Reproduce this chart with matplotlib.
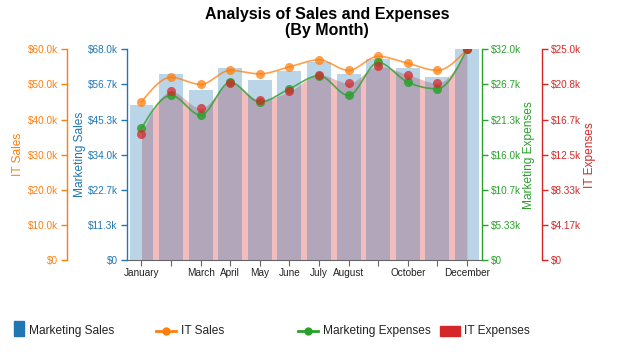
import matplotlib.pyplot as plt
import numpy as np
from matplotlib.patches import Rectangle
from matplotlib.lines import Line2D
from matplotlib.ticker import FuncFormatter

plt.rcParams['font.family'] = ['Liberation Sans', 'DejaVu Sans']

# data
months = ['January', 'February', 'March', 'April', 'May', 'June', 'July',
          'August', 'September', 'October', 'November', 'December']
shown_labels = ['January', '', 'March', 'April', 'May', 'June', 'July',
                'August', '', 'October', '', 'December']
marketing_sales = [50000, 60000, 55000, 62000, 58000, 61000, 64000, 60000, 65000, 62000, 59000, 68000]
it_sales = [45000, 52000, 50000, 54000, 53000, 55000, 57000, 54000, 58000, 56000, 54000, 60000]
marketing_expenses = [20000, 25000, 22000, 27000, 24000, 26000, 28000, 25000, 30000, 27000, 26000, 32000]
it_expenses = [15000, 20000, 18000, 21000, 19000, 20000, 22000, 21000, 23000, 22000, 21000, 25000]

BLUE, ORANGE, GREEN, RED = '#1f77b4', '#ff7f0e', '#2ca02c', '#d62728'
W, H = 641, 352


def monotone_curve(y, n=30):
    # monotone cubic (like d3.curveMonotoneX) over evenly spaced categories
    y = np.asarray(y, dtype=float)
    s = np.diff(y)
    t = np.zeros_like(y)
    for i in range(1, len(y) - 1):
        s0, s1 = s[i - 1], s[i]
        p = (s0 + s1) / 2
        sg = (-1 if s0 < 0 else 1) + (-1 if s1 < 0 else 1)
        t[i] = sg * min(abs(s0), abs(s1), 0.5 * abs(p))
    t[0] = (3 * s[0] - t[1]) / 2
    t[-1] = (3 * s[-1] - t[-2]) / 2
    xs, ys = [], []
    for i in range(len(y) - 1):
        u = np.linspace(0, 1, n, endpoint=(i == len(y) - 2))
        h00 = 2 * u**3 - 3 * u**2 + 1
        h10 = u**3 - 2 * u**2 + u
        h01 = -2 * u**3 + 3 * u**2
        h11 = u**3 - u**2
        xs.append(i + u)
        ys.append(h00 * y[i] + h10 * t[i] + h01 * y[i + 1] + h11 * t[i + 1])
    return np.concatenate(xs), np.concatenate(ys)


def money(v, pos):
    if v == 0:
        return '$0'
    return '${:#.3g}k'.format(v / 1000)


def style_axis(a, side, pos, color, label, vmax, label_x):
    a.set_ylim(0, vmax)
    a.set_yticks(np.linspace(0, vmax, 7))
    a.yaxis.set_major_formatter(FuncFormatter(money))
    for s in a.spines.values():
        s.set_visible(False)
    sp = a.spines[side]
    sp.set_visible(True)
    sp.set_color(color)
    sp.set_linewidth(1)
    sp.set_position(('axes', pos))
    a.yaxis.set_ticks_position(side)
    a.yaxis.set_label_position(side)
    a.tick_params(axis='y', colors=color, length=4.3, width=1, labelsize=7.2, pad=2.2)
    a.set_ylabel(label, color=color, fontsize=8.6, va='center')
    a.yaxis.set_label_coords(label_x, 0.5)


fig = plt.figure(figsize=(W / 100, H / 100), dpi=100)
left, right, top, bottom = 126.7, 481.7, 49.3, 260.0
ax = fig.add_axes([left / W, 1 - bottom / H, (right - left) / W, (bottom - top) / H])
pw = right - left

x = np.arange(len(months))

# red area sits below the bars
ax_area = ax.twinx()
ax_area.set_zorder(0)
ax.set_zorder(1)
ax.patch.set_visible(False)
ax_area.set_ylim(0, max(it_expenses))
ax_area.set_yticks([])
for s in ax_area.spines.values():
    s.set_visible(False)
cx, cy = monotone_curve(it_expenses)
ax_area.fill_between(cx, cy, color=RED, alpha=0.3, lw=0)

# marketing sales bars
ax.bar(x, marketing_sales, width=0.81, color=BLUE, alpha=0.3)
ax.set_xlim(-0.5, len(months) - 0.5)
ax.set_xticks(x)
ax.set_xticklabels(shown_labels)
ax.tick_params(axis='x', colors='#666666', labelcolor='#222222', length=4.3, labelsize=7.2, pad=1.5)
style_axis(ax, 'left', 0, BLUE, 'Marketing Sales', max(marketing_sales), (80 - left) / pw)
ax.spines['bottom'].set_visible(True)
ax.spines['bottom'].set_color('#666666')

# IT sales (orange, far left)
ax_its = ax.twinx()
ax_its.set_zorder(2)
style_axis(ax_its, 'left', (66.7 - left) / pw, ORANGE, 'IT Sales', max(it_sales), (18 - left) / pw)
cx, cy = monotone_curve(it_sales)
ax_its.plot(cx, cy, color=ORANGE, lw=1.2, alpha=0.75)
ax_its.plot(x, it_sales, 'o', ms=6.5, color=ORANGE, alpha=0.75, mec='none')

# marketing expenses (green)
ax_me = ax.twinx()
ax_me.set_zorder(3)
style_axis(ax_me, 'right', 1.0, GREEN, 'Marketing Expenses', max(marketing_expenses), (529 - left) / pw)
cx, cy = monotone_curve(marketing_expenses)
ax_me.plot(cx, cy, color=GREEN, lw=1.2, alpha=0.8)
ax_me.plot(x, marketing_expenses, 'o', ms=6.5, color=GREEN, alpha=0.85, mec='none')

# IT expenses (red, far right)
ax_ite = ax.twinx()
ax_ite.set_zorder(4)
style_axis(ax_ite, 'right', (541.7 - left) / pw, RED, 'IT Expenses', max(it_expenses), (590 - left) / pw)
ax_ite.plot(x, it_expenses, 'o', ms=6.5, color=RED, alpha=0.75, mec='none')

# title
fig.text(327 / W, 1 - 19 / H, 'Analysis of Sales and Expenses', ha='center', va='baseline',
         fontsize=11.5, fontweight='bold')
fig.text(327 / W, 1 - 34.5 / H, '(By Month)', ha='center', va='baseline',
         fontsize=11.5, fontweight='bold')


# legend drawn by hand along the bottom
def fx(px):
    return px / W


def fy(py):
    return 1 - py / H


ly = 331
fig.add_artist(Rectangle((fx(14), fy(336)), 10 / W, 15 / H, transform=fig.transFigure, color=BLUE))
fig.text(fx(29), fy(ly), 'Marketing Sales', va='center', fontsize=8.6, color='#222222')
fig.add_artist(Line2D([fx(156), fx(176)], [fy(ly), fy(ly)], transform=fig.transFigure, color=ORANGE, lw=2))
fig.add_artist(Line2D([fx(166)], [fy(ly)], transform=fig.transFigure, color=ORANGE, marker='o', ms=6, mec='none'))
fig.text(fx(181), fy(ly), 'IT Sales', va='center', fontsize=8.6, color='#222222')
fig.add_artist(Line2D([fx(298), fx(318)], [fy(ly), fy(ly)], transform=fig.transFigure, color=GREEN, lw=2))
fig.add_artist(Line2D([fx(308)], [fy(ly)], transform=fig.transFigure, color=GREEN, marker='o', ms=6, mec='none'))
fig.text(fx(323), fy(ly), 'Marketing Expenses', va='center', fontsize=8.6, color='#222222')
fig.add_artist(Rectangle((fx(440), fy(336)), 20 / W, 10 / H, transform=fig.transFigure, color=RED))
fig.text(fx(464), fy(ly), 'IT Expenses', va='center', fontsize=8.6, color='#222222')

fig.savefig('out.png', dpi=100)
plt.close(fig)
